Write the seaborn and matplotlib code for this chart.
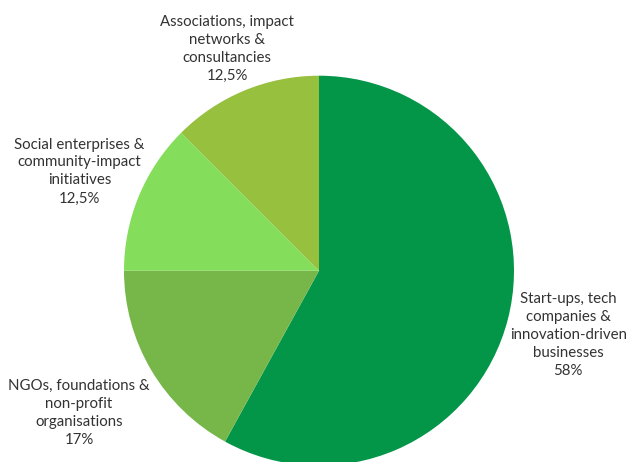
import numpy as np
import seaborn as sns
import matplotlib.pyplot as plt

labels = [
    "Start-ups, tech\ncompanies &\ninnovation-driven\nbusinesses\n58%",
    "NGOs, foundations &\nnon-profit\norganisations\n17%",
    "Social enterprises &\ncommunity-impact\ninitiatives\n12,5%",
    "Associations, impact\nnetworks &\nconsultancies\n12,5%",
]
shares = [58, 17, 12.5, 12.5]
colors = ["#039648", "#77b74a", "#84dd5b", "#97c03f"]

# how far each label sits from the centre (in pie radii)
label_dist = [1.32, 1.43, 1.33, 1.23]

sns.set_theme(style="white")
plt.rcParams["font.family"] = ["Lato", "DejaVu Sans"]

fig = plt.figure(figsize=(6.31, 4.62), dpi=100)
ax = fig.add_axes([0, 0, 1, 1])

wedges, texts = ax.pie(
    shares,
    labels=labels,
    colors=colors,
    startangle=90,
    counterclock=False,
    wedgeprops={"linewidth": 0},
    textprops={"fontsize": 10.8, "color": "#333333", "linespacing": 1.36},
)

for w, t, d in zip(wedges, texts, label_dist):
    theta = np.deg2rad((w.theta1 + w.theta2) / 2)
    t.set_position((d * np.cos(theta), d * np.sin(theta)))
    t.set_horizontalalignment("center")
    t.set_verticalalignment("center")
    t.set_multialignment("center")

r_px = 195
cx, cy = 319, 270.7
ax.set_xlim(-cx / r_px, (631 - cx) / r_px)
ax.set_ylim(-(462 - cy) / r_px, cy / r_px)
ax.set_aspect("equal")
ax.axis("off")

fig.savefig("out.png", dpi=100)
